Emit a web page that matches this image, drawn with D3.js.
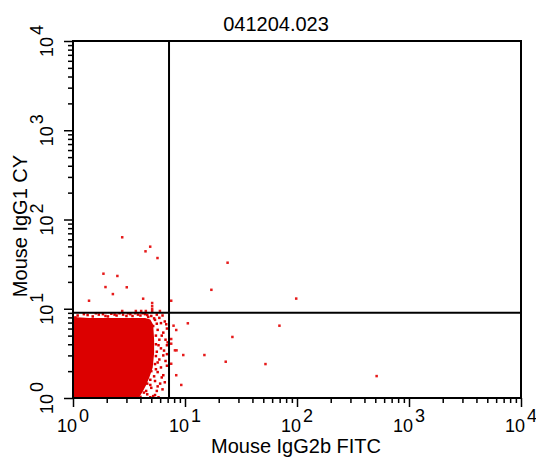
<!DOCTYPE html>
<html>
<head>
<meta charset="utf-8">
<script src="https://cdn.jsdelivr.net/npm/d3@7/dist/d3.min.js"></script>
<style>
body { margin: 0; background: #fff; }
text { font-family: "Liberation Sans", Arial, sans-serif; fill: #000; }
</style>
</head>
<body>
<div id="chart"></div>
<script>
var title = "041204.023";
var xLabel = "Mouse IgG2b FITC";
var yLabel = "Mouse IgG1 CY";
var decades = [0, 1, 2, 3, 4];
var gateX = 7.2, gateY = 9.0;

// dense population, traced outline (FITC, CY)
var cloudX = [1, 1, 1.39, 2.10, 3.17, 4.06, 4.4, 4.9, 5.2, 5.3, 5.3, 5.15, 4.8, 4.5, 4.15, 3.85];
var cloudY = [1, 8.08, 7.88, 7.88, 7.88, 7.88, 7.88, 7.6, 6.6, 4.5, 3.2, 2.2, 1.7, 1.4, 1.15, 1];

// events on the ragged edge of the dense population
var edgeX = [5.0, 5.4, 5.9, 6.1, 5.2, 5.7, 6.4, 5.5, 5.9, 6.7, 5.5, 6.1, 6.9, 5.6, 6.4, 5.5, 5.9, 6.7, 5.4, 6.1, 5.0, 5.7, 6.4, 4.9, 5.4, 6.0, 4.6, 5.0, 5.6, 4.3, 4.6, 5.2, 4.0,
             6.6, 5.6, 6.9, 6.2, 7.0, 5.8, 6.5, 6.9, 5.7, 6.9, 5.5, 6.2, 5.3, 6.6, 5.7, 4.9, 6.3, 5.4, 4.5, 4.9, 5.8, 6.8, 5.3, 4.7, 6.3, 5.6,
             1.1, 1.25, 1.5, 1.7, 1.95, 2.2, 2.45, 2.8, 3.1, 3.4, 3.8, 4.2, 4.6,
             1.05, 1.35, 1.6, 1.85, 2.05, 2.35, 2.6, 3.0, 3.25, 3.6, 4.0, 4.4];
var edgeY = [8.3, 7.5, 7.9, 6.9, 6.4, 5.8, 5.4, 5.0, 4.5, 4.5, 4.0, 3.6, 3.9, 3.3, 3.0, 2.95, 2.7, 2.6, 2.4, 2.2, 2.0, 1.95, 1.8, 1.6, 1.55, 1.45, 1.45, 1.3, 1.2, 1.15, 1.1, 1.05, 1.03,
             7.2, 6.8, 6.0, 5.0, 4.2, 3.9, 3.4, 3.1, 2.5, 2.3, 2.1, 1.7, 1.75, 1.5, 1.35, 1.4, 1.25, 1.08, 1.2, 1.02, 1.02, 6.7, 7.8, 8.1, 8.4, 8.6,
             8.4, 8.7, 8.2, 8.6, 8.3, 8.8, 8.4, 8.6, 8.9, 8.3, 8.6, 8.9, 8.5,
             8.0, 8.5, 8.9, 8.7, 8.2, 8.6, 8.9, 8.3, 8.7, 8.9, 8.4, 8.7];

// sparse events
var eventX = [2.75, 4.89, 4.44, 5.68, 1.87, 2.49, 1.95, 3.02, 2.27, 1.39, 4.23, 7.53, 5.09, 5.09, 5.09, 5.09, 2.75, 3.64, 4.06, 4.47, 5.97,
              24.0, 17.2, 98.4, 10.6, 69.7, 8.35, 7.90, 26.5, 7.53, 7.53, 8.13, 8.40, 9.65, 14.9, 23.1, 52.3, 7.53, 8.35, 514, 9.26];
var eventY = [63.2, 49.6, 44.0, 37.0, 24.7, 23.3, 17.5, 17.4, 14.6, 12.3, 12.96, 12.3, 11.6, 10.7, 9.94, 9.44, 9.44, 9.44, 9.44, 9.44, 9.44,
              32.8, 16.3, 13.0, 6.87, 6.46, 5.78, 6.46, 4.83, 4.58, 4.06, 3.42, 3.42, 3.03, 3.03, 2.55, 2.40, 2.42, 1.80, 1.76, 1.40];

var red = "#dc0000";

var margin = {top: 41, right: 15, bottom: 59, left: 73};
var width = 536 - margin.left - margin.right,
    height = 457 - margin.top - margin.bottom;

var svg = d3.select("#chart")
    .append("svg")
    .attr("width", 536)
    .attr("height", 457)
    .append("g")
    .attr("transform", "translate(" + margin.left + "," + margin.top + ")");

var x = d3.scaleLog().domain([1, 1e4]).range([0, width]);
var y = d3.scaleLog().domain([1, 1e4]).range([height, 0]);

// log ticks 1..9 per decade
var ticks = [];
decades.forEach(function(d) {
    if (d == 4) { ticks.push(1e4); return; }
    for (var m = 1; m < 10; m++) ticks.push(m * Math.pow(10, d));
});
function isMajor(v) { return Math.abs(Math.log10(v) - Math.round(Math.log10(v))) < 1e-9; }

// dense population
var cloud = cloudX.map(function(v, i) { return [v, cloudY[i]]; });
svg.append("path")
    .datum(cloud)
    .attr("fill", red)
    .attr("d", d3.line()
        .x(function(d) { return x(d[0]); })
        .y(function(d) { return y(d[1]); })
        .curve(d3.curveLinearClosed));

svg.selectAll(".edge")
    .data(edgeX.map(function(v, i) { return [v, edgeY[i]]; }))
    .enter().append("rect")
    .attr("class", "edge")
    .attr("x", function(d) { return x(d[0]) - 1.25; })
    .attr("y", function(d) { return y(d[1]) - 1.25; })
    .attr("width", 2.5).attr("height", 2.5)
    .attr("fill", red);

svg.selectAll(".event")
    .data(eventX.map(function(v, i) { return [v, eventY[i]]; }))
    .enter().append("rect")
    .attr("class", "event")
    .attr("x", function(d) { return x(d[0]) - 1.25; })
    .attr("y", function(d) { return y(d[1]) - 1.25; })
    .attr("width", 2.5).attr("height", 2.5)
    .attr("fill", "#e61a1a");

// quadrant gate
svg.append("line")
    .attr("x1", x(gateX)).attr("x2", x(gateX))
    .attr("y1", 0).attr("y2", height)
    .attr("stroke", "#000").attr("stroke-width", 2);
svg.append("line")
    .attr("x1", 0).attr("x2", width)
    .attr("y1", y(gateY)).attr("y2", y(gateY))
    .attr("stroke", "#000").attr("stroke-width", 2);

// axes
var xAxis = svg.append("g")
    .attr("transform", "translate(0," + height + ")")
    .call(d3.axisBottom(x).tickValues(ticks).tickSize(5).tickFormat(""));
var yAxis = svg.append("g")
    .call(d3.axisLeft(y).tickValues(ticks).tickSize(5).tickFormat(""));
[xAxis, yAxis].forEach(function(a) {
    a.select(".domain").remove();
    a.selectAll(".tick line").attr("stroke", "#000").attr("stroke-width", 1.5);
});
xAxis.selectAll(".tick line").filter(isMajor).attr("y2", 9);
yAxis.selectAll(".tick line").filter(isMajor).attr("x2", -9);

// frame
svg.append("rect")
    .attr("width", width).attr("height", height)
    .attr("fill", "none")
    .attr("stroke", "#000").attr("stroke-width", 2);

// tick labels 10^n
var xt = svg.selectAll(".xlab").data(decades).enter().append("text")
    .attr("class", "xlab")
    .attr("x", function(d) { return x(Math.pow(10, d)); })
    .attr("y", height + 34)
    .attr("text-anchor", "middle")
    .style("font-size", "18px");
xt.append("tspan").text("10");
xt.append("tspan").attr("dx", 2).attr("dy", -10).text(function(d) { return d; });

var yt = svg.selectAll(".ylab").data(decades).enter().append("text")
    .attr("class", "ylab")
    .attr("transform", function(d) { return "translate(-20," + y(Math.pow(10, d)) + ") rotate(-90)"; })
    .attr("text-anchor", "middle")
    .style("font-size", "18px");
yt.append("tspan").text("10");
yt.append("tspan").attr("dx", 2).attr("dy", -10).text(function(d) { return d; });

// titles
svg.append("text")
    .attr("x", 203).attr("y", -10)
    .attr("text-anchor", "middle")
    .style("font-size", "20px")
    .text(title);
svg.append("text")
    .attr("x", 223).attr("y", height + 55)
    .attr("text-anchor", "middle")
    .style("font-size", "20px")
    .text(xLabel);
svg.append("text")
    .attr("transform", "translate(-46," + (226 - margin.top) + ") rotate(-90)")
    .attr("text-anchor", "middle")
    .style("font-size", "20px")
    .text(yLabel);
</script>
</body>
</html>
